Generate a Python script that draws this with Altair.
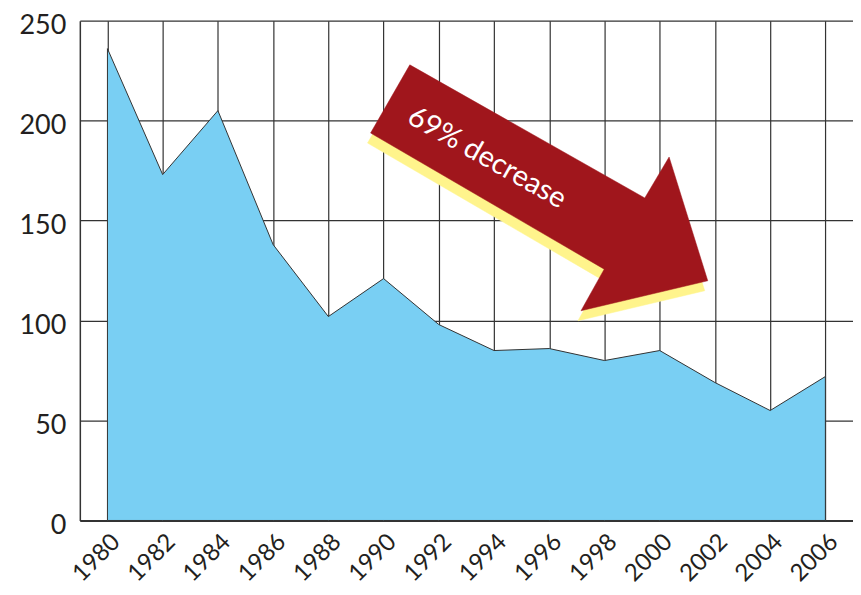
import altair as alt
import pandas as pd

years = [1980, 1982, 1984, 1986, 1988, 1990, 1992, 1994, 1996, 1998, 2000, 2002, 2004, 2006]
values = [236, 173, 205, 138, 102, 121, 98, 85, 86, 80, 85, 69, 55, 72]

# arrow annotation outline, in data units (year, value)
arrow_x = [1990.95, 1999.46, 2000.34, 2001.74, 1997.15, 1997.99, 1989.53]
arrow_y = [227.9, 161.3, 181.8, 119.9, 104.9, 125.7, 193.8]
shadow_dx = -0.11
shadow_dy = -5.0
label_text = "69% decrease"
label_x = 1993.75
label_y = 181.5
tick_years = list(range(1980, 2007, 2))
tick_vals = [0, 50, 100, 150, 200, 250]

FONT = "Lato"
df = pd.DataFrame({"year": years, "value": values})
arrow = pd.DataFrame({"x": arrow_x, "y": arrow_y, "i": list(range(len(arrow_x)))})
shadow = pd.DataFrame({"x": [v + shadow_dx for v in arrow_x],
                       "y": [v + shadow_dy for v in arrow_y],
                       "i": list(range(len(arrow_x)))})
lab = pd.DataFrame({"x": [label_x], "y": [label_y], "t": [label_text]})

xscale = alt.Scale(domain=[1979, 2007], nice=False, zero=False)
yscale = alt.Scale(domain=[0, 250], nice=False)

xaxis = alt.Axis(values=tick_years, format="d", labelAngle=-45, labelAlign="right",
                 labelBaseline="top", labelPadding=9, labelFontSize=24, labelFont=FONT,
                 labelColor="#231f20", ticks=False, grid=True, gridColor="#333333",
                 gridWidth=1.2, domainColor="#333333", domainWidth=2, title=None,
                 labelOverlap=False, labelBound=False)
yaxis = alt.Axis(values=tick_vals, labelFontSize=27, labelFont=FONT, labelColor="#231f20",
                 labelPadding=14, labelOffset=5, ticks=False, grid=True, gridColor="#333333",
                 gridWidth=1.2, domainColor="#333333", domainWidth=1.5, title=None,
                 labelBound=False)

area = alt.Chart(df).mark_area(fill="#79cff3", stroke="#333333", strokeWidth=1).encode(
    x=alt.X("year:Q", scale=xscale, axis=xaxis),
    y=alt.Y("value:Q", scale=yscale, axis=yaxis),
)

shadow_layer = alt.Chart(shadow).mark_line(
    fill="#fff48c", stroke="#fff48c", strokeWidth=0.5, interpolate="linear-closed"
).encode(x=alt.X("x:Q", scale=xscale), y=alt.Y("y:Q", scale=yscale), order="i:Q")

arrow_layer = alt.Chart(arrow).mark_line(
    fill="#a0161c", stroke="#a0161c", strokeWidth=0.5, interpolate="linear-closed"
).encode(x=alt.X("x:Q", scale=xscale), y=alt.Y("y:Q", scale=yscale), order="i:Q")

text_layer = alt.Chart(lab).mark_text(
    angle=29.5, fontSize=29, font=FONT, color="white", align="center", baseline="middle"
).encode(x=alt.X("x:Q", scale=xscale), y=alt.Y("y:Q", scale=yscale), text="t:N")

chart = alt.layer(area, shadow_layer, arrow_layer, text_layer).properties(
    width=775, height=501,
    autosize=alt.AutoSizeParams(type="none"),
    padding={"left": 72, "top": 12, "right": 0, "bottom": 72},
    background="white",
).configure_view(strokeWidth=0)

chart.save("out.html", embed_options={"renderer": "svg", "actions": False})
